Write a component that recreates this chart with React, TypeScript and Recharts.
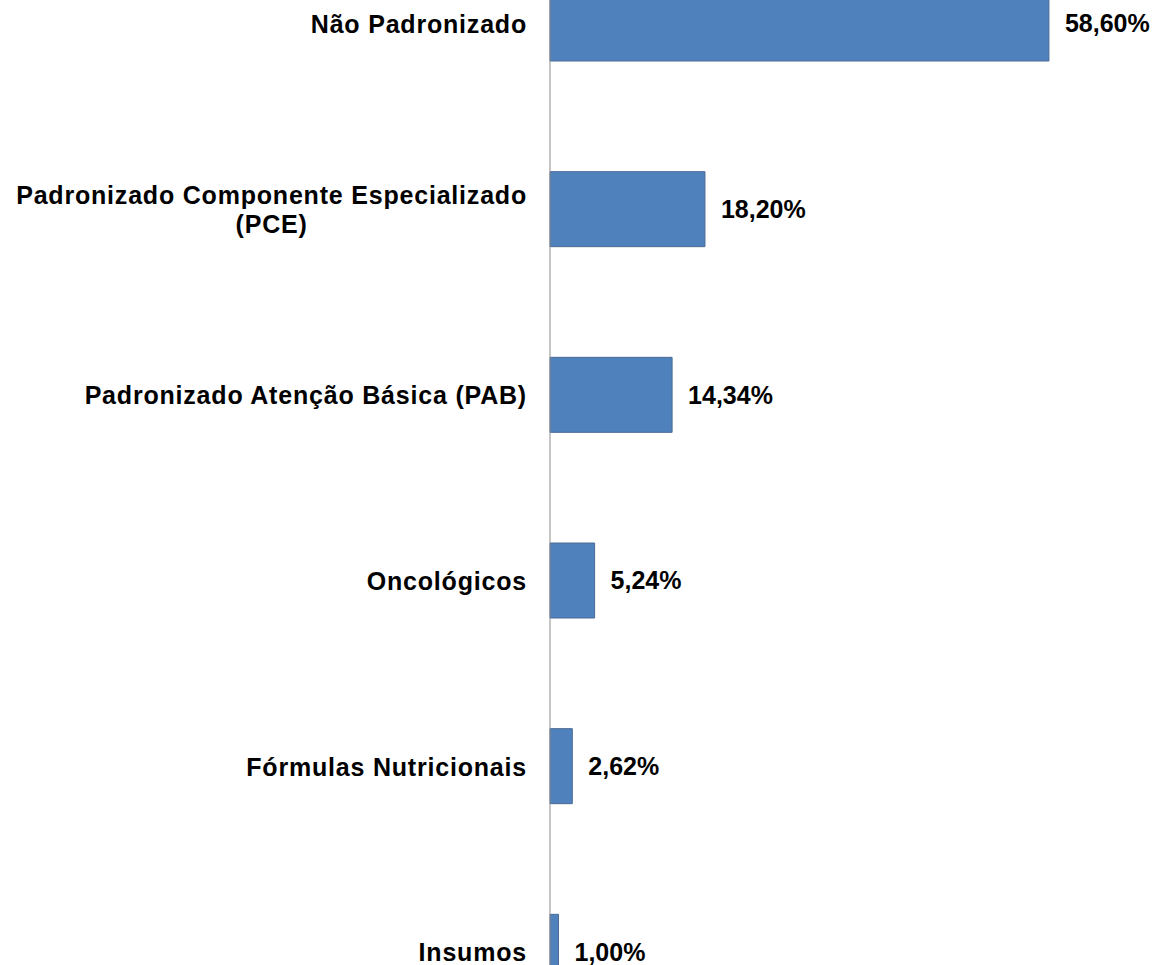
import { BarChart, Bar, XAxis, YAxis, LabelList } from 'recharts';

const categories = [
  'Não Padronizado',
  'Padronizado Componente Especializado (PCE)',
  'Padronizado Atenção Básica (PAB)',
  'Oncológicos',
  'Fórmulas Nutricionais',
  'Insumos',
];
const shares = [58.6, 18.2, 14.34, 5.24, 2.62, 1.0];

const data = categories.map((name, i) => ({ name, value: shares[i] }));

const FONT = '"Liberation Sans", Arial, sans-serif';
const TICK_SIZE = 25;
const TICK_SPACING = 0.8;
const LINE_H = 29;
const MAX_LABEL_W = 540;

let ctx: CanvasRenderingContext2D | null = null;
const measure = (s: string) => {
  if (!ctx) {
    ctx = document.createElement('canvas').getContext('2d');
    if (ctx) ctx.font = `bold ${TICK_SIZE}px ${FONT}`;
  }
  const w = ctx ? ctx.measureText(s).width : s.length * TICK_SIZE * 0.6;
  return w + s.length * TICK_SPACING;
};

// greedy word wrap, like the spreadsheet does for long category names
const wrap = (label: string) => {
  const words = label.split(' ');
  const lines: string[] = [];
  let cur = '';
  for (const w of words) {
    const next = cur ? cur + ' ' + w : w;
    if (cur && measure(next) > MAX_LABEL_W) {
      lines.push(cur);
      cur = w;
    } else cur = next;
  }
  if (cur) lines.push(cur);
  return lines;
};

const CategoryTick = ({ x, y, payload }: any) => {
  const lines = wrap(payload.value);
  const style = { fontFamily: FONT, fontSize: TICK_SIZE, fontWeight: 'bold', letterSpacing: TICK_SPACING };
  if (lines.length === 1) {
    return (
      <text x={x} y={y} dy="0.36em" textAnchor="end" fill="#000" style={style}>
        {lines[0]}
      </text>
    );
  }
  const blockW = Math.max(...lines.map(measure));
  const cx = x - blockW / 2;
  const startY = y - ((lines.length - 1) * LINE_H) / 2;
  return (
    <text textAnchor="middle" fill="#000" style={style}>
      {lines.map((l, i) => (
        <tspan key={i} x={cx} y={startY + i * LINE_H} dy="0.36em">
          {l}
        </tspan>
      ))}
    </text>
  );
};

const fmt = (v: any) => Number(v).toFixed(2).replace('.', ',') + '%';

export default function App() {
  return (
    <div style={{ position: 'absolute', left: 0, top: 0, width: 1161, height: 965, overflow: 'hidden', background: '#fff' }}>
      <div style={{ position: 'relative', top: -69 }}>
        <BarChart
          width={1161}
          height={1114}
          data={data}
          layout="vertical"
          margin={{ top: 0, right: 15, bottom: 0, left: 0 }}
        >
          <XAxis type="number" domain={[0, 70]} hide />
          <YAxis
            type="category"
            dataKey="name"
            width={550}
            axisLine={{ stroke: '#8c8c8c', strokeWidth: 1 }}
            tickLine={false}
            tickSize={0}
            tickMargin={23}
            tick={<CategoryTick />}
            interval={0}
          />
          <Bar dataKey="value" fill="#4F81BD" stroke="#4a6a94" strokeWidth={1} barSize={75} isAnimationActive={false}>
            <LabelList
              dataKey="value"
              position="right"
              offset={16}
              formatter={fmt}
              style={{ fontFamily: FONT, fontSize: 25, fontWeight: 'bold', fill: '#000' }}
            />
          </Bar>
        </BarChart>
      </div>
    </div>
  );
}
